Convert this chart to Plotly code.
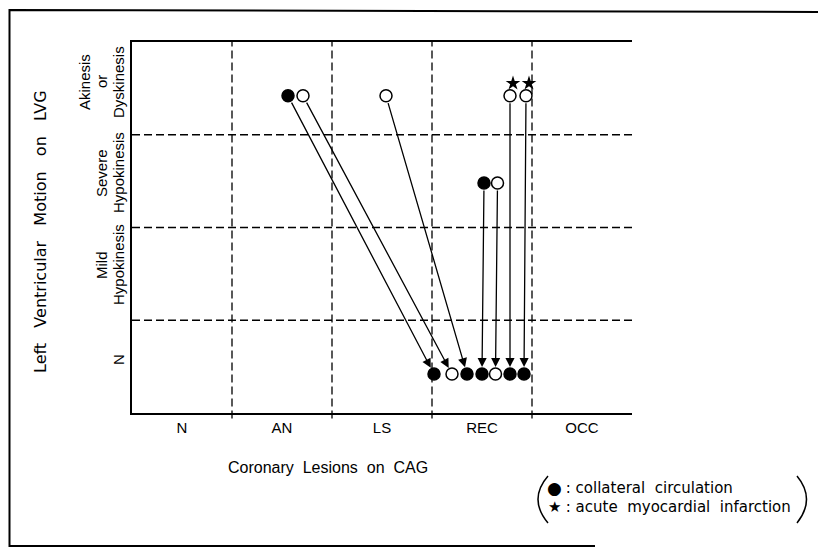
import plotly.graph_objects as go

# ---------------- data ----------------
x_categories = ["N", "AN", "LS", "REC", "OCC"]
y_row_labels = [["N"], ["Mild", "Hypokinesis"], ["Severe", "Hypokinesis"], ["Akinesis", "or", "Dyskinesis"]]

# before (pre) state of each lesion: x position inside category, y = wall-motion grade
pre_x = [1.06, 1.21, 2.04, 3.02, 3.155, 3.28, 3.44]
pre_y = [2.92, 2.92, 2.92, 1.98, 1.98, 2.92, 2.92]
pre_collateral = [1, 0, 0, 1, 0, 0, 0]
# after (post) state
post_x = [2.52, 2.70, 2.85, 3.00, 3.135, 3.28, 3.42]
post_y = [-0.08, -0.08, -0.08, -0.08, -0.08, -0.08, -0.08]
post_collateral = [1, 0, 1, 1, 0, 1, 1]
# acute myocardial infarction flags
ami = [0, 0, 0, 0, 0, 1, 1]

legend_symbols = ["\u25CF", "\u2605"]
legend_texts = [" : collateral\u00a0\u00a0circulation",
                " : acute\u00a0\u00a0myocardial\u00a0\u00a0infarction"]

FONT = "Liberation Sans, Arial, Helvetica, sans-serif"
WIDE = "DejaVu Sans, Liberation Sans, sans-serif"
DASH = "8px,4px"

# page offset of the plot div (body margin)
OFF = 8
# screen geometry of the plot area (px)
L, R, T, B = 132, 632, 42, 413
PW, PH = R - L, B - T
W, H = 826 - OFF, 549 - OFF


def px_x(px):
    return (px - L) / PW


def px_y(py):
    return (B - py) / PH


fig = go.Figure()

# arrows
annotations = []
for i in range(len(pre_x)):
    annotations.append(dict(
        x=post_x[i], y=post_y[i], ax=pre_x[i], ay=pre_y[i],
        xref="x", yref="y", axref="x", ayref="y",
        showarrow=True, arrowhead=2, arrowsize=1.4, arrowwidth=1.3,
        arrowcolor="black", standoff=7, startstandoff=6, text=""))


def add_points(xs, ys, flags):
    fig.add_trace(go.Scatter(
        x=xs, y=ys, mode="markers",
        marker=dict(size=12,
                    color=["black" if f else "white" for f in flags],
                    line=dict(color="black", width=1.5)),
        showlegend=False, hoverinfo="skip"))


add_points(pre_x, pre_y, pre_collateral)
add_points(post_x, post_y, post_collateral)

star_x = [pre_x[i] + 0.03 for i in range(len(ami)) if ami[i]]
star_y = [pre_y[i] + 0.135 for i in range(len(ami)) if ami[i]]
fig.add_trace(go.Scatter(x=star_x, y=star_y, mode="markers",
                         marker=dict(symbol="star", size=11, color="black"),
                         showlegend=False, hoverinfo="skip"))

shapes = []
# dashed grid
for b in [0.5, 1.5, 2.5, 3.5]:
    shapes.append(dict(type="line", xref="x", yref="paper", x0=b, x1=b, y0=-0.015, y1=1,
                       line=dict(color="black", width=1.3, dash=DASH)))
for b in [0.5, 1.5, 2.5]:
    shapes.append(dict(type="line", xref="paper", yref="y", x0=0, x1=1.0, y0=b, y1=b,
                       line=dict(color="black", width=1.3, dash=DASH)))

# outer frame
fx0, fy_top, fy_bot = px_x(9.5), px_y(10), px_y(546)
shapes.append(dict(type="path", xref="paper", yref="paper",
                   path=f"M {px_x(830)},{px_y(12)} L {fx0},{fy_top} L {fx0},{fy_bot} L {px_x(595)},{fy_bot}",
                   line=dict(color="black", width=2)))

# legend parentheses
shapes.append(dict(type="path", xref="paper", yref="paper",
                   path=f"M {px_x(548)},{px_y(476)} Q {px_x(528)},{px_y(499)} {px_x(548)},{px_y(523)}",
                   line=dict(color="black", width=1.5)))
shapes.append(dict(type="path", xref="paper", yref="paper",
                   path=f"M {px_x(797)},{px_y(476)} Q {px_x(816)},{px_y(499)} {px_x(797)},{px_y(523)}",
                   line=dict(color="black", width=1.5)))

# y row labels (rotated, each line separately)
row_centers_py = [360, 265, 173, 82]
for r, lines in enumerate(y_row_labels):
    n = len(lines)
    for k, txt in enumerate(lines):
        xpx = 118 - (n - 1 - k) * 17
        annotations.append(dict(text=txt, xref="paper", yref="paper",
                                x=px_x(xpx), y=px_y(row_centers_py[r]),
                                xanchor="center", yanchor="middle", textangle=-90,
                                showarrow=False, font=dict(family=FONT, size=15, color="black")))

# axis titles
annotations.append(dict(text="Left\u00a0\u00a0\u00a0Ventricular\u00a0\u00a0\u00a0Motion\u00a0\u00a0\u00a0on\u00a0\u00a0\u00a0LVG",
                        xref="paper", yref="paper", x=px_x(40), y=px_y(232),
                        xanchor="center", yanchor="middle", textangle=-90, showarrow=False,
                        font=dict(family=WIDE, size=16, color="black")))
annotations.append(dict(text="Coronary\u00a0\u00a0Lesions\u00a0\u00a0on\u00a0\u00a0CAG",
                        xref="paper", yref="paper", x=px_x(328), y=px_y(467),
                        xanchor="center", yanchor="middle", showarrow=False,
                        font=dict(family=FONT, size=16, color="black")))

# legend
for sym, txt, py, ssize in zip(legend_symbols, legend_texts, [488, 507], [17, 15]):
    annotations.append(dict(text=sym, xref="paper", yref="paper", x=px_x(554), y=px_y(py),
                            xanchor="center", yanchor="middle", showarrow=False,
                            font=dict(family=WIDE, size=ssize, color="black")))
    annotations.append(dict(text=txt, xref="paper", yref="paper", x=px_x(559), y=px_y(py),
                            xanchor="left", yanchor="middle", showarrow=False,
                            font=dict(family=WIDE, size=15, color="black")))

fig.update_layout(
    width=W, height=H,
    margin=dict(l=L - OFF, r=W - (R - OFF), t=T - OFF, b=H - (B - OFF), pad=0),
    paper_bgcolor="white", plot_bgcolor="white",
    xaxis=dict(range=[-0.5, 4.5], tickvals=list(range(len(x_categories))), ticktext=x_categories,
               showgrid=False, zeroline=False, showline=True, linecolor="black", linewidth=2,
               mirror=True, ticks="", ticklen=0,
               tickfont=dict(family=FONT, size=15, color="black")),
    yaxis=dict(range=[-0.5, 3.5], showticklabels=False, showgrid=False, zeroline=False,
               showline=True, linecolor="black", linewidth=2, ticks=""),
    shapes=shapes, annotations=annotations,
)

fig.write_html("out.html")
